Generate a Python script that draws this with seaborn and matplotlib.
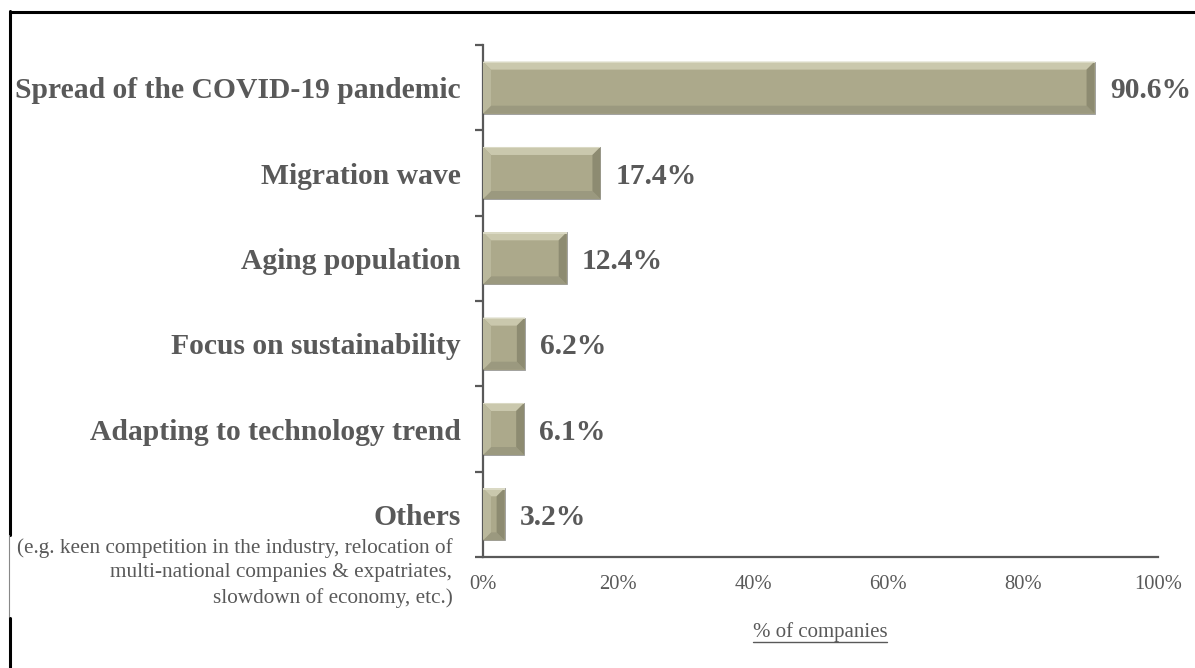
import matplotlib
matplotlib.use("Agg")
import matplotlib.pyplot as plt
import seaborn as sns
import pandas as pd
from matplotlib.patches import Polygon
from matplotlib.lines import Line2D

categories = ["Spread of the COVID-19 pandemic", "Migration wave", "Aging population",
              "Focus on sustainability", "Adapting to technology trend", "Others"]
values = [90.6, 17.4, 12.4, 6.2, 6.1, 3.2]
value_labels = ["90.6%", "17.4%", "12.4%", "6.2%", "6.1%", "3.2%"]
x_ticks = [0, 20, 40, 60, 80, 100]
x_tick_labels = ["0%", "20%", "40%", "60%", "80%", "100%"]
others_note = ["(e.g. keen competition in the industry, relocation of",
               "multi-national companies & expatriates,",
               "slowdown of economy, etc.)"]
x_title = "% of companies"

sns.set_style("white")
plt.rcParams['font.family'] = ['Liberation Serif', 'DejaVu Serif']

GRAY = "#595959"
FACE = "#ACA98B"

W, H = 1195, 668
fig = plt.figure(figsize=(W / 100, H / 100), dpi=100)
ax = fig.add_axes([483 / W, 1 - 557 / H, (1158 - 483) / W, (557 - 45) / H])

df = pd.DataFrame({"cat": categories, "val": values})
sns.barplot(data=df, x="val", y="cat", orient="h", color=FACE, width=0.61,
            saturation=1, ax=ax, edgecolor="#9a9a9a", linewidth=0.6)

ax.set_xlim(0, 100)
ax.set_ylim(5.5, -0.5)
ax.set_xlabel("")
ax.set_ylabel("")

for s in ["top", "right"]:
    ax.spines[s].set_visible(False)
for s in ["left", "bottom"]:
    ax.spines[s].set_color(GRAY)
    ax.spines[s].set_linewidth(1.6)

ax.set_xticks(x_ticks)
ax.set_xticklabels(x_tick_labels, fontsize=14.8, color=GRAY)
ax.tick_params(axis="x", direction="in", length=6, width=1.6, color=GRAY, pad=13)

ax.set_yticks(range(len(categories)))
ax.set_yticklabels(categories, fontsize=21.3, fontweight="bold", color=GRAY)
ax.tick_params(axis="y", which="major", length=0, pad=16)
ax.set_yticks([i - 0.5 for i in range(len(categories) + 1)], minor=True)
ax.tick_params(axis="y", which="minor", direction="out", length=6, width=1.6, color=GRAY, left=True)
for lbl in ax.get_yticklabels():
    lbl.set_verticalalignment("center_baseline")

# bevel effect
fig.canvas.draw()
inv = ax.transData.inverted()
for p in ax.patches:
    x0, y0 = p.get_x(), p.get_y()
    x1, y1 = x0 + p.get_width(), y0 + p.get_height()
    (px0, py0) = ax.transData.transform((x0, y0))
    (px1, py1) = ax.transData.transform((x1, y1))
    L, R = min(px0, px1), max(px0, px1)
    B, T = min(py0, py1), max(py0, py1)
    d = min(8, (R - L) / 2 - 0.5, (T - B) / 2 - 0.5)
    iL, iR, iB, iT = L + d, R - d, B + d, T - d
    polys = [
        ([(L, T), (R, T), (iR, iT), (iL, iT)], "#CAC8AD"),
        ([(L, B), (R, B), (iR, iB), (iL, iB)], "#9B997F"),
        ([(L, B), (L, T), (iL, iT), (iL, iB)], "#BAB89C"),
        ([(R, B), (R, T), (iR, iT), (iR, iB)], "#8D8B71"),
    ]
    for pts, c in polys:
        dpts = inv.transform(pts)
        ax.add_patch(Polygon(dpts, closed=True, facecolor=c, edgecolor="none", zorder=3))
    ax.add_patch(Polygon(inv.transform([(L, T), (R, T), (R, T - 1.5), (L, T - 1.5)]),
                         closed=True, facecolor="#DAD9C4", edgecolor="none", zorder=4))

for i, (v, lab) in enumerate(zip(values, value_labels)):
    ax.annotate(lab, xy=(v, i), xytext=(11, 0), textcoords="offset points",
                ha="left", va="center_baseline", fontsize=21.3, fontweight="bold", color=GRAY)

# Others note
for j, line in enumerate(others_note):
    ax.annotate(line, xy=(0, 5), xycoords=("axes fraction", "data"),
                xytext=(-22, -24 - j * 18), textcoords="offset points",
                ha="right", va="center", fontsize=15.3, color=GRAY)

# x title with underline
t = fig.text(820 / W, 1 - 632 / H, x_title, ha="center", va="center", fontsize=15, color=GRAY)
fig.canvas.draw()
bb = t.get_window_extent(renderer=fig.canvas.get_renderer())
uy = (bb.y0 - 0.5) / H
fig.add_artist(Line2D([bb.x0 / W, bb.x1 / W], [uy, uy], transform=fig.transFigure,
                      color=GRAY, linewidth=1.0))

# frame
fig.add_artist(Line2D([9.5 / W, 1.0], [1 - 12 / H, 1 - 12 / H], transform=fig.transFigure,
                      color="black", linewidth=2.2))
fig.add_artist(Line2D([10 / W, 10 / W], [1 - 11 / H, 1 - 535 / H], transform=fig.transFigure,
                      color="black", linewidth=2.2))
fig.add_artist(Line2D([8.5 / W, 8.5 / W], [1 - 535 / H, 1 - 618 / H], transform=fig.transFigure,
                      color="#888888", linewidth=0.8))
fig.add_artist(Line2D([10 / W, 10 / W], [1 - 618 / H, 0], transform=fig.transFigure,
                      color="black", linewidth=2.2))

fig.savefig("out.png", dpi=100)
